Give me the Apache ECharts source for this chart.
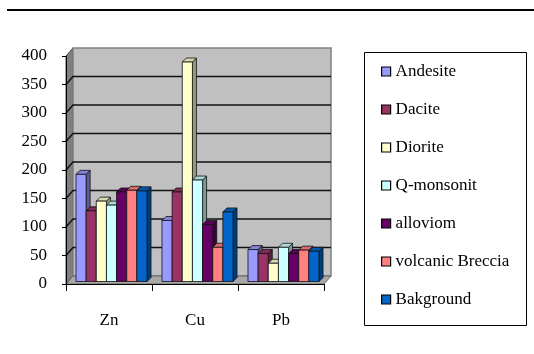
<!DOCTYPE html>
<html>
<head>
<meta charset="utf-8">
<script src="https://cdn.jsdelivr.net/npm/echarts@6/dist/echarts.min.js"></script>
<style>
  html, body { margin: 0; padding: 0; background: #fff; }
  #chart { width: 534px; height: 354px; }
</style>
</head>
<body>
<div id="chart"></div>
<script>
// Element concentrations per rock type (Zn, Cu, Pb)
const categories = ['Zn', 'Cu', 'Pb'];
const andesite = [188, 107, 56];
const dacite = [124, 157, 49];
const diorite = [141, 385, 32];
const qMonsonit = [134, 178, 60];
const alloviom = [157, 100, 49];
const volcanicBreccia = [160, 60, 55];
const bakground = [159, 122, 53];
const yTicks = [0, 50, 100, 150, 200, 250, 300, 350, 400];

const seriesNames = ['Andesite', 'Dacite', 'Diorite', 'Q-monsonit', 'alloviom', 'volcanic Breccia', 'Bakground'];
const seriesValues = [andesite, dacite, diorite, qMonsonit, alloviom, volcanicBreccia, bakground];
const seriesColors = ['#9999FF', '#993366', '#FFFFCC', '#CCFFFF', '#660066', '#FF8080', '#0066CC'];

const FONT = "'Liberation Serif', 'Times New Roman', Times, 'DejaVu Serif', serif";
const WALL_DEPTH = [7, -8];   // offset of the back wall from the front plane
const BAR_SHIFT = [2.5, -2.5];  // bars stand a little behind the front plane
const BAR_DEPTH = [4, -4];    // visible thickness of each column
const N = seriesNames.length;

function shade(hex, f) {
  const n = parseInt(hex.slice(1), 16);
  const r = Math.round(((n >> 16) & 255) * f);
  const g = Math.round(((n >> 8) & 255) * f);
  const b = Math.round((n & 255) * f);
  return 'rgb(' + r + ',' + g + ',' + b + ')';
}

// Walls, floor and gridlines of the 3D box
function renderWalls(params, api) {
  const cs = params.coordSys;
  const x0 = cs.x, xr = cs.x + cs.width;
  const yTop = cs.y, yBot = cs.y + cs.height;
  const [bx, by] = WALL_DEPTH;
  const children = [
    { type: 'polygon', shape: { points: [[x0, yTop], [x0 + bx, yTop + by], [x0 + bx, yBot + by], [x0, yBot]] },
      style: { fill: '#808080', stroke: '#444', lineWidth: 1 } },
    { type: 'rect', shape: { x: x0 + bx, y: yTop + by, width: cs.width, height: cs.height },
      style: { fill: '#c0c0c0', stroke: '#808080', lineWidth: 1.5 } },
    { type: 'polygon', shape: { points: [[x0, yBot], [x0 + bx, yBot + by], [xr + bx, yBot + by], [xr, yBot]] },
      style: { fill: '#a8a8a8', stroke: '#666', lineWidth: 1 } }
  ];
  yTicks.forEach(function (t) {
    if (t <= 0 || t >= 400) return;
    const yf = api.coord([0, t])[1];
    children.push({ type: 'polyline', shape: { points: [[x0, yf], [x0 + bx, yf + by], [xr + bx, yf + by]] },
      style: { fill: null, stroke: '#111', lineWidth: 1.5 } });
  });
  return { type: 'group', children: children };
}

// One 3D column: side face, top face and front face
function makeBarRenderer(idx, color) {
  return function (params, api) {
    const c = api.value(0), v = api.value(1);
    const base = api.coord([c, 0]);
    const top = api.coord([c, v]);
    const band = api.size([1, 0])[0];
    const bw = band * 0.826 / N;
    const x = base[0] - bw * N / 2 + bw * idx + BAR_SHIFT[0];
    const yb = base[1] + BAR_SHIFT[1];
    const yt = top[1] + BAR_SHIFT[1];
    const [dx, dy] = BAR_DEPTH;
    const line = { stroke: '#111', lineWidth: 0.8 };
    return {
      type: 'group',
      children: [
        { type: 'polygon', shape: { points: [[x + bw, yt], [x + bw + dx, yt + dy], [x + bw + dx, yb + dy], [x + bw, yb]] },
          style: Object.assign({ fill: shade(color, 0.6) }, line) },
        { type: 'polygon', shape: { points: [[x, yt], [x + bw, yt], [x + bw + dx, yt + dy], [x + dx, yt + dy]] },
          style: Object.assign({ fill: shade(color, 0.85) }, line) },
        { type: 'rect', shape: { x: x, y: yt, width: bw, height: yb - yt },
          style: Object.assign({ fill: color }, line) }
      ]
    };
  };
}

const chart = echarts.init(document.getElementById('chart'), null, { renderer: 'canvas' });

const series = [{
  type: 'custom',
  name: '__walls',
  renderItem: renderWalls,
  data: [[0, 0]],
  z: 1,
  silent: true
}];
seriesNames.forEach(function (name, i) {
  series.push({
    type: 'custom',
    name: name,
    renderItem: makeBarRenderer(i, seriesColors[i]),
    data: seriesValues[i].map(function (v, c) { return [c, v]; }),
    encode: { x: 0, y: 1 },
    itemStyle: { color: seriesColors[i], borderColor: '#000' },
    z: 2,
    silent: true
  });
});

chart.setOption({
  animation: false,
  backgroundColor: '#fff',
  textStyle: { fontFamily: FONT },
  graphic: [
    { type: 'line', shape: { x1: 7, y1: 10, x2: 534, y2: 10 }, style: { stroke: '#000', lineWidth: 2 }, z: 0 },
    { type: 'rect', shape: { x: 364.5, y: 52.5, width: 162, height: 273 }, style: { fill: '#fff', stroke: '#000', lineWidth: 1 }, z: 0 }
  ],
  grid: { left: 66, top: 56, width: 258, height: 228, containLabel: false },
  legend: {
    orient: 'vertical',
    left: 381,
    top: 63,
    data: seriesNames,
    icon: 'rect',
    itemWidth: 9,
    itemHeight: 9,
    itemGap: 21,
    padding: 0,
    itemStyle: { borderColor: '#000', borderWidth: 1.2 },
    textStyle: { fontFamily: FONT, fontSize: 17, lineHeight: 17, color: '#000' },
    selectedMode: false,
    z: 5
  },
  xAxis: {
    type: 'category',
    data: categories,
    axisLine: { show: true, lineStyle: { color: '#000', width: 1 } },
    axisTick: { show: true, length: 7, lineStyle: { color: '#000' } },
    axisLabel: { margin: 28, fontFamily: FONT, fontSize: 17, color: '#000' },
    splitLine: { show: false },
    z: 3
  },
  yAxis: {
    type: 'value',
    min: 0,
    max: 400,
    interval: 50,
    axisLine: { show: true, lineStyle: { color: '#000', width: 1 } },
    axisTick: { show: true, length: 4, lineStyle: { color: '#000' } },
    axisLabel: { margin: 19, fontFamily: FONT, fontSize: 17, color: '#000', padding: [3, 0, 0, 0] },
    splitLine: { show: false },
    z: 3
  },
  series: series
});
</script>
</body>
</html>
